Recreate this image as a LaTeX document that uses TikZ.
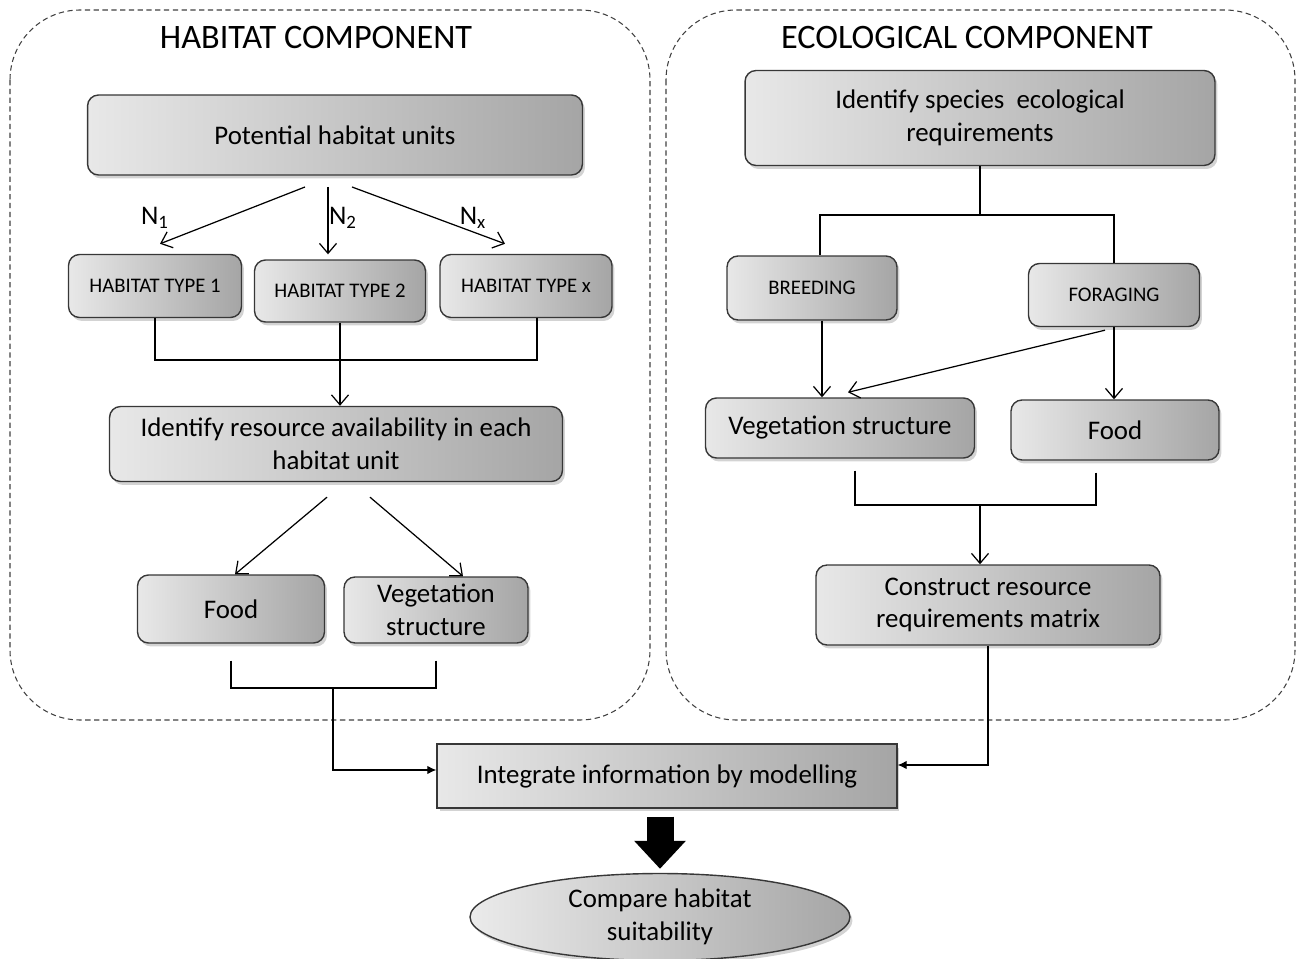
\documentclass[tikz,border=0pt]{standalone}
\usepackage{fontspec}
\setmainfont{Carlito}
\usetikzlibrary{positioning, arrows.meta, shapes.geometric, shadows}

\begin{document}
\begin{tikzpicture}[
        % one unit = one pixel of the original figure
        x=0.02cm, y=-0.02cm,
        >={Straight Barb[length=0.2cm, width=0.34cm]},
        font=\fontsize{15.3}{18.7}\selectfont
    ]
        % Define custom colors
        \definecolor{boxline}{RGB}{55,55,55}
        \definecolor{shadeL}{RGB}{232,232,232}
        \definecolor{shadeR}{RGB}{165,165,165}

        % Define node styles
        \tikzstyle{box}=[
            draw=boxline,
            line width=0.8pt,
            rounded corners=0.22cm,
            left color=shadeL, right color=shadeR,
            drop shadow={shadow xshift=0.05cm, shadow yshift=-0.07cm, opacity=0.35},
            align=center,
            inner sep=2pt
        ]
        \tikzstyle{smallcaps}=[font=\fontsize{11.8}{14}\selectfont]
        \tikzstyle{flowarrow}=[->, line width=0.7pt]
        \tikzstyle{joinline}=[line width=0.7pt]
        \tikzstyle{feedarrow}=[-{Latex[length=0.18cm, width=0.17cm]}, line width=0.7pt]
        \tikzstyle{bigarrow}=[-{Triangle[length=0.56cm, width=1.0cm]}, line width=0.54cm]
        \tikzstyle{region}=[draw=black!75, dash pattern=on 3pt off 2pt, rounded corners=1.4cm, line width=0.6pt]

        \useasboundingbox (0,0) rectangle (1302,959);

        % --- Dashed Regions ---
        \draw[region] (10,10) rectangle (650,720);
        \draw[region] (666,10) rectangle (1295,720);
        \node[font=\fontsize{19.5}{22}\selectfont] (habtitle) at (316,38) {HABITAT COMPONENT};
        \node[font=\fontsize{19.5}{22}\selectfont] (ecotitle) at (967,38) {ECOLOGICAL COMPONENT};

        % --- Habitat Component ---
        \node[box, minimum width=9.9cm, minimum height=1.6cm] (pot) at (335,135) {Potential habitat units};
        \node[box, smallcaps, minimum width=3.46cm, minimum height=1.26cm] (ht1) at (155,286) {HABITAT TYPE 1};
        \node[box, smallcaps, minimum width=3.42cm, minimum height=1.24cm] (ht2) at (340,291) {HABITAT TYPE 2};
        \node[box, smallcaps, minimum width=3.44cm, minimum height=1.26cm] (htx) at (526,286) {HABITAT TYPE x};
        \node[box, minimum width=9.06cm, minimum height=1.5cm] (ident) at (336,444) {Identify resource availability in each\\habitat unit};
        \node[box, minimum width=3.74cm, minimum height=1.36cm] (foodL) at (231,609) {Food};
        \node[box, minimum width=3.68cm, minimum height=1.32cm] (vegL) at (436,610) {Vegetation\\structure};

        % N labels
        \node (n1) at (155,218) {N\textsubscript{1}};
        \node (n2) at (343,218) {N\textsubscript{2}};
        \node (nx) at (473,218) {N\textsubscript{x}};

        \coordinate (fork) at (328,187);
        \coordinate (hjoin) at (341,360);
        \coordinate (ljoin) at (333,688);

        \draw[flowarrow] ([xshift=-0.46cm]fork) -- ([shift={(5,-10)}]ht1.north);
        \draw[flowarrow] (fork) -- ([shift={(-12,-5)}]ht2.north);
        \draw[flowarrow] ([xshift=0.48cm]fork) -- ([shift={(-21,-10)}]htx.north);

        \draw[joinline] (ht1.south) |- (hjoin);
        \draw[joinline] ([xshift=0.22cm]htx.south) |- (hjoin);
        \draw[flowarrow] (ht2.south) -- (ht2.south |- ident.north);

        \draw[flowarrow] ([shift={(-9,15)}]ident.south) -- ([xshift=0.08cm]foodL.north);
        \draw[flowarrow] ([shift={(34,15)}]ident.south) -- ([xshift=0.54cm]vegL.north);

        \draw[joinline, shorten <=0.34cm] (foodL.south) |- (ljoin);
        \draw[joinline, shorten <=0.34cm] (vegL.south) |- (ljoin);

        % --- Ecological Component ---
        \node[box, minimum width=9.4cm, minimum height=1.9cm] (species) at (980,118) {Identify species\ \ ecological\\requirements};
        \node[box, smallcaps, minimum width=3.4cm, minimum height=1.28cm] (breed) at (812,288) {BREEDING};
        \node[box, smallcaps, minimum width=3.42cm, minimum height=1.26cm] (forag) at (1114,295) {FORAGING};
        \node[box, minimum width=5.38cm, minimum height=1.2cm] (vegR) at (840,428) {Vegetation structure};
        \node[box, minimum width=4.16cm, minimum height=1.2cm] (foodR) at (1115,430) {Food};
        \node[box, minimum width=6.88cm, minimum height=1.6cm] (construct) at (988,605) {Construct resource\\requirements matrix};

        \coordinate (sjoin) at (980,215);
        \coordinate (rjoin) at (980,505);

        \draw[joinline] (species.south) -- (sjoin);
        \draw[joinline] ([xshift=0.16cm]breed.north) |- (sjoin) -| (forag.north);

        \draw[flowarrow] ([xshift=0.2cm]breed.south) -- ([xshift=0.2cm]breed.south |- vegR.north);
        \draw[flowarrow] (forag.south) -- (forag.south |- foodR.north);
        \draw[flowarrow] ([shift={(-9,3)}]forag.south) -- ([shift={(8,-5)}]vegR.north);

        \draw[joinline, shorten <=0.24cm] ([xshift=0.3cm]vegR.south) |- (rjoin);
        \draw[joinline, shorten <=0.24cm] ([xshift=-0.38cm]foodR.south) |- (rjoin);
        \draw[flowarrow] (rjoin) -- (rjoin |- construct.north);

        % --- Integration ---
        \node[box, rounded corners=0pt, minimum width=9.2cm, minimum height=1.28cm] (integ) at (667,776) {Integrate information by modelling};
        \node[box, ellipse, left color=black!8, right color=black!35, minimum width=7.6cm, minimum height=1.74cm, inner sep=0pt] (cmp) at (660,917) {Compare habitat\\suitability};

        \draw[feedarrow] (ljoin) |- ([yshift=0.12cm]integ.west);
        \draw[feedarrow] (construct.south) |- ([yshift=0.22cm]integ.east);
        \draw[bigarrow] ([yshift=-0.16cm]cmp.north |- integ.south) -- ([yshift=0.08cm]cmp.north);

    \end{tikzpicture}
\end{document}
